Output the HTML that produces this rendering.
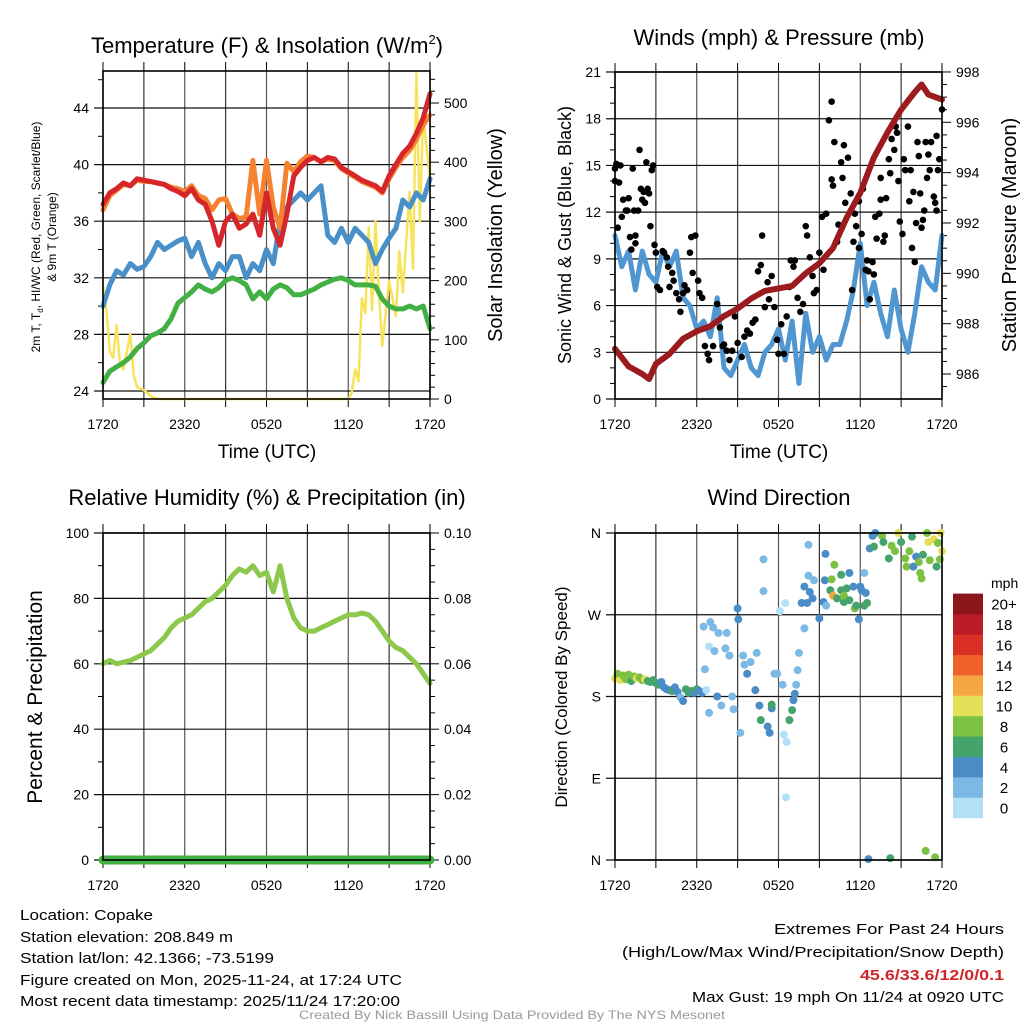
<!DOCTYPE html>
<html><head><meta charset="utf-8"><style>
html,body{margin:0;padding:0;background:#fff;}
svg{display:block;font-family:"Liberation Sans",sans-serif;}
</style></head><body>
<svg id="fig" width="1024" height="1024" viewBox="0 0 1024 1024" xmlns="http://www.w3.org/2000/svg"></svg>
<script>
// ---------- DATA ----------
const hoursHalf = [0,0.5,1,1.5,2,2.5,3,3.5,4,4.5,5,5.5,6,6.5,7,7.5,8,8.5,9,9.5,10,10.5,11,11.5,12,12.5,13,13.5,14,14.5,15,15.5,16,16.5,17,17.5,18,18.5,19,19.5,20,20.5,21,21.5,22,22.5,23,23.5,24];
const tempRed = [37.2,38,38.3,38.7,38.5,39,38.9,38.8,38.7,38.6,38.3,38.1,37.8,38.3,37.5,37.2,36,34.3,36,36.5,35.5,35.8,36.5,35,38,35.5,34.3,36.5,39.2,39.8,40.3,40.5,40.2,40.5,40.4,39.8,39.5,39.2,38.9,38.7,38.5,38.1,39.2,40,40.8,41.3,42.2,43.3,45];
const temp9m = [36.8,37.8,38.2,38.6,38.5,38.9,38.8,38.8,38.7,38.6,38.4,38.3,38.1,38.5,37.8,37.6,36.8,37.5,37.6,36.5,36.2,36.3,40.3,36.5,40.3,37,35.5,40.1,39.5,40.2,40.6,40.5,40.2,40.4,40.3,39.7,39.4,39.1,38.8,38.6,38.4,38,39,39.8,40.5,41,41.8,42.8,43.5];
const tempBlue = [30,31.5,32.5,32.2,33,32.6,32.8,33.5,34.5,34,34.3,34.6,34.8,33.5,34.5,33,32,33,32.5,33.5,33.5,32,33,32.5,34,33,36,37,37.5,38,37.5,38,38.5,35,34.5,35.5,34.5,35.5,35,34.5,33,34,34.8,35.5,37.5,37,38,37.5,39];
const dewGreen = [24.6,25.4,25.7,26,26.4,27,27.4,27.9,28.1,28.4,29.1,30.2,30.6,31,31.5,31.2,31,31.3,31.8,32,31.8,31.5,30.5,31,30.5,31.2,31.5,31.3,30.8,30.8,31,31.2,31.5,31.7,31.9,32,31.8,31.5,31.5,31.5,31.4,30.5,30,29.8,29.8,30,29.8,30,28.4];
const solarHours = [0,0.25,0.5,0.75,1,1.25,1.5,2,2.25,2.5,3,3.5,4,18,18.25,18.5,18.75,19,19.25,19.5,19.75,20,20.25,20.5,21,21.5,21.75,22,22.5,22.75,23,23.25,23.5,24];
const solarValues = [190,150,80,70,125,60,50,110,40,20,15,5,0,0,10,50,30,170,145,290,150,300,180,90,200,140,250,180,350,220,550,300,480,370];
const windBlue = [10.5,8.5,9.5,7,9.5,8,7.5,9.5,8.5,9.5,6.5,6,4.5,5,4,6.5,2,1.5,2.5,3.5,2,1.5,3,3.5,4.5,2.5,5,1,5.5,3,4,2.5,3.5,3.5,5,7,10,6,7.5,5.5,4,7,4.5,3,5.5,8.5,7.5,7,10.5];
const pressHours = [0,1,2,2.5,3,4,5,6,7,8,9,10,11,12,13,14,15,16,17,18,19,20,21,22,22.5,23,24];
const pressValues = [987,986.3,986.0,985.8,986.4,986.8,987.4,987.7,987.9,988.3,988.6,989.0,989.3,989.4,989.5,990.0,990.4,991.0,992.2,993.2,994.6,995.6,996.5,997.2,997.5,997.1,996.9];
const gustHours = [
 0,0,0.1,0.3,0.4,0.2,0.5,0.6,0.8,0.9,
 1.0,1.1,1.4,1.5,1.5,1.2,1.3,1.7,1.8,1.9,
 2.0,2.1,2.2,2.3,2.4,2.5,2.6,2.7,2.8,2.9,
 3.0,3.1,3.3,3.5,3.6,3.8,3.9,4.0,4.2,4.3,
 4.5,4.7,4.8,5.0,5.1,5.3,5.5,5.6,5.7,5.9,
 6.1,6.2,6.4,6.6,6.8,6.9,7.2,7.5,7.7,7.9,
 8.0,8.2,8.4,8.6,8.8,9.0,9.3,9.5,9.7,9.9,
 10.1,10.3,10.5,10.7,10.8,11.0,11.2,11.3,11.5,11.7,
 11.9,12.0,12.2,12.4,12.6,12.8,12.9,13.1,13.2,13.4,
 13.6,13.8,14.0,14.1,14.3,14.5,14.6,14.8,15.0,15.2,
 15.3,15.5,15.7,15.9,15.9,16.0,16.1,16.3,16.4,16.6,
 16.7,16.8,16.9,17.1,17.3,17.4,17.5,17.6,17.7,17.9,
 17.9,18.1,18.2,18.4,18.5,18.6,18.7,18.9,19.0,19.1,
 19.2,19.4,19.5,19.5,19.7,19.8,19.9,20.1,20.2,20.3,
 20.5,20.6,20.7,20.8,20.9,21.1,21.2,21.3,21.5,21.6,
 21.7,21.8,21.9,22.0,22.1,22.2,22.3,22.4,22.5,22.6,
 22.7,22.8,22.9,23.0,23.1,23.2,23.4,23.5,23.6,23.6,
 23.7,23.8,24];
const gustValues = [
 14.8,14,15.1,13.9,15,11,11.7,12.8,12.1,12.1,
 12.9,10.4,12.1,10.5,10,9.6,14.8,12.1,16,13.5,
 12.8,13.3,12.6,15.2,13.5,13.2,11.1,14.7,15,9.9,
 9.4,7.2,7,9.5,9.4,9.1,8.5,7.2,8.1,7.6,
 6.8,6.4,5.6,6.8,7.3,7,9.4,10.4,8.1,10.5,
 7.6,6.8,6.5,3.4,2.9,2.5,3.4,6.1,4.6,3.4,
 3.5,3.1,2.5,3.1,5.3,3.6,2.7,4,4.4,4.2,
 4.9,5.1,8.2,8.6,10.5,5.9,7.5,6.4,7.9,5.9,
 3.8,2.9,4.8,2.9,5.3,7.2,8.9,8.5,8.9,6.5,
 5.6,6.1,11.1,10.5,9.1,7.9,6.8,7,9.4,11.7,
 8.3,11.9,17.9,14.1,19.1,13.7,16.5,10.1,11.2,15.2,
 14.2,16.3,12.6,15.5,13.2,7,10.1,11.9,11.1,9.7,
 12.7,10.6,13.5,8.3,8.9,8.2,6.4,8.8,8,11.7,
 10.3,11.9,14.2,12.8,10.1,10.5,12.9,15.4,14.5,16.7,
 16,17.5,17.1,14,11.4,10.6,15.4,14.7,17.5,12.7,
 14.7,9.7,13.3,8.8,11.3,16.5,15.6,13.2,11,11.5,
 12.1,16.5,14.2,15.7,14.7,16.5,13,12.6,16.9,12.1,
 14.7,15.4,18.6];
const rhValues = [60,61,60,60.5,61,62,63,64,66,68,71,73,74,75,77,79,80,82,84,87,89,88,90,87,88,82,90,80,74,71,70,70,71,72,73,74,75,75,75.5,75,73,70,67,65,64,62,60,57,54];
const precipValues = [0,0,0,0,0,0,0,0,0,0,0,0,0,0,0,0,0,0,0,0,0,0,0,0,0,0,0,0,0,0,0,0,0,0,0,0,0,0,0,0,0,0,0,0,0,0,0,0,0];
const dirHours = [
 0,0.2,0.4,0.6,0.8,1.0,1.2,1.4,1.6,1.8,
 2.0,2.2,2.4,2.6,2.8,3.0,3.2,3.4,3.6,3.8,
 4.0,4.2,4.4,4.6,4.8,5.0,5.2,5.4,5.6,5.8,
 6.0,6.2,6.4,
 6.7,6.5,7.0,7.2,6.9,7.3,6.6,6.9,7.6,8.2,
 8.1,8.4,7.5,7.8,8.6,8.7,9.0,9.05,9.2,9.4,
 9.5,9.7,9.95,10.4,10.3,10.6,10.9,10.9,11.2,11.35,
 11.5,10.7,11.5,11.7,11.9,12.1,12.3,12.5,12.4,12.6,
 12.55,12.8,13.0,13.1,13.2,13.3,13.4,13.5,13.9,14.2,
 13.7,14.1,14.3,14.2,14.6,13.9,14.5,15.0,15.3,15.4,
 15.45,15.5,15.8,16.0,15.9,16.1,16.3,16.6,16.8,16.8,
 16.6,17.0,17.2,17.2,17.5,17.6,17.7,17.9,18.0,18.1,
 18.3,18.3,18.4,18.5,
 18.7,18.9,19.1,19.0,19.6,19.7,20.1,20.3,20.55,20.8,
 21.0,21.3,21.4,21.6,21.8,21.9,22.1,22.3,22.4,22.5,
 22.6,22.9,23.0,23.1,23.4,23.6,23.7,23.9,24,23.85,
 18.6,20.2,22.8,23.5];
const dirValues = [
 200,205,198,203,199,204,197,202,200,201,
 198,199,197,196,198,195,193,196,190,188,
 187,186,190,185,179,175,188,184,186,184,
 188,186,184,
 187,257,262,256,235,230,210,162,250,250,
 233,225,180,170,180,166,277,265,140,225,
 215,205,218,228,187,170,331,296,147,140,
 167,154,171,205,205,274,193,283,138,130,
 69,154,165,176,183,193,209,228,255,347,
 283,283,295,313,308,301,288,266,284,308,
 337,280,297,291,309,325,288,297,284,291,
 314,299,316,286,301,277,280,265,301,297,
 280,316,294,283,
 343,357,360,345,357,350,332,346,340,360,
 350,332,323,340,356,323,334,328,316,310,
 336,360,350,330,353,323,349,360,340,331,
 1,2,10,3];
const dirSpeeds = [
 10,9,10,8,9,8,7,9,10,8,
 9,10,7,6,7,6,6,5,4,5,
 4,6,5,4,3,4,6,7,6,4,
 6,5,4,
 1,2,2,2,1,2,2,2,2,2,
 2,2,4,2,2,2,4,4,2,2,
 2,4,2,2,4,4,2,2,4,4,
 4,7,7,2,2,1,2,1,1,1,
 1,7,7,4,4,2,2,2,2,2,
 4,4,4,2,2,4,4,4,4,4,
 4,2,6,12,8,8,6,6,6,8,
 6,6,4,6,4,8,6,4,4,4,
 6,2,4,6,
 4,4,4,6,8,6,6,8,8,10,
 6,8,8,8,6,4,4,8,8,8,
 6,8,10,8,10,6,8,10,10,8,
 4,7,8,8];
const speedBins = ["0","2","4","6","8","10","12","14","16","18","20+"];
const tempTicks = [24,28,32,36,40,44];
const solarTicks = [0,100,200,300,400,500];
const windTicks = [0,3,6,9,12,15,18,21];
const pressTicks = [986,988,990,992,994,996,998];
const rhTicks = [0,20,40,60,80,100];
const precipTicks = ["0.00","0.02","0.04","0.06","0.08","0.10"];
const dirTicks = ["N","E","S","W","N"];
const timeTicks = ["1720","2320","0520","1120","1720"];

// ---------- HELPERS ----------
const NS="http://www.w3.org/2000/svg";
const svg=document.getElementById('fig');
function mk(tag,attrs,parent,text){const e=document.createElementNS(NS,tag);for(const k in attrs)e.setAttribute(k,attrs[k]);if(text!==undefined)e.textContent=text;(parent||svg).appendChild(e);return e;}
const speedColors=["#b3e0f6","#7cb9e4","#4a8cc6","#45a36c","#7dc142","#e5df57","#f5a640","#ee6228","#da2f27","#b91c24","#8c1619"];
function panel(name,x0,y0,x1,y1){
  const g=mk('g',{});
  
  
  const sx=h=>x0+(x1-x0)*h/24;
  for(let i=0;i<=8;i++){const x=x0+(x1-x0)*i/8;
    mk('line',{x1:x,y1:y0,x2:x,y2:y1,stroke:i%2?'#333':'#555','stroke-width':1.2},g);
    mk('line',{x1:x,y1:y0-9,x2:x,y2:y0,stroke:'#000','stroke-width':1},g);
    mk('line',{x1:x,y1:y1,x2:x,y2:y1+8,stroke:'#000','stroke-width':1},g);}
  timeTicks.forEach((t,i)=>{const tx=mk('text',{x:x0+(x1-x0)*i/4,y:y1+30,'font-size':14,'text-anchor':'middle'},g,t);
    
    });
  return {g,sx};
}
function yaxis(g,x0,x1,yOf,vals,labels,side,fs){
  vals.forEach((v,i)=>{const y=yOf(v);
    if(side==='left'){mk('line',{x1:x0-9,y1:y,x2:x1,y2:y,stroke:'#111','stroke-width':1.2},g);
      const t=mk('text',{x:x0-14,y:y+5,'font-size':fs||14,'text-anchor':'end'},g,labels[i]);
      
      }
    else{mk('line',{x1:x1,y1:y,x2:x1+9,y2:y,stroke:'#000','stroke-width':1},g);
      const t=mk('text',{x:x1+14,y:y+5,'font-size':fs||14,'text-anchor':'start'},g,labels[i]);
      
      }
  });
}
function border(g,x0,y0,x1,y1){mk('rect',{x:x0,y:y0,width:x1-x0,height:y1-y0,fill:'none',stroke:'#000','stroke-width':1.6},g);}
function line(g,name,xs,ys,color,w){
  const p=mk('polyline',{points:xs.map((x,i)=>x.toFixed(1)+','+ys[i].toFixed(1)).join(' '),fill:'none',stroke:color,'stroke-width':w,'stroke-linejoin':'round','stroke-linecap':'round'},g);
  
  
  return p;}
function title(x,y,txt,fs,name,rot){const t=mk('text',{x:x,y:y,'font-size':fs,'text-anchor':'middle',transform:rot?`rotate(-90 ${x} ${y})`:''},svg,txt);
  
  return t;}

// ---------- PANEL 1: Temperature ----------
{
 const X0=103,X1=430,Y0=71,Y1=399;
 const {g,sx}=panel('temperature-panel',X0,Y0,X1,Y1);
 const yT=v=>391-(v-24)*14.15, yS=v=>399-v*0.592;
 yaxis(g,X0,X1,yT,tempTicks,tempTicks.map(String),'left');
 yaxis(g,X0,X1,yS,solarTicks,solarTicks.map(String),'right');
 for(let v=26;v<=46;v+=4){mk('line',{x1:X0-5,y1:yT(v),x2:X0,y2:yT(v),stroke:'#000'},g);}
 for(let v=20;v<=540;v+=20){if(v%100){mk('line',{x1:X1,y1:yS(v),x2:X1+5,y2:yS(v),stroke:'#000'},g);}}
 const xs=hoursHalf.map(sx);
 line(g,'solar-insolation-line',solarHours.map(sx),solarValues.map(yS),'#f7e35a',2.5);
 line(g,'dewpoint-line',xs,dewGreen.map(yT),'#43b043',5);
 line(g,'wind-chill-line',xs,tempBlue.map(yT),'#4a90c8',5);
 line(g,'temp-9m-line',xs,temp9m.map(yT),'#f58231',5);
 line(g,'temp-2m-line',xs,tempRed.map(yT),'#d7262a',5);
 border(g,X0,Y0,X1,Y1);
}
title(267,53,'',22,'temperature-title').innerHTML='Temperature (F) &amp; Insolation (W/m<tspan dy="-9" font-size="13">2</tspan><tspan dy="9">)</tspan>';
title(267,458,'Time (UTC)',19,'x-axis-title-temp');
title(40,237,'',12,'temp-y-axis-title',true).innerHTML='2m T, T<tspan font-size="8" dy="3">d</tspan><tspan dy="-3">, HI/WC (Red, Green, Scarlet/Blue)</tspan>';
title(56,237,'& 9m T (Orange)',12,'temp-y-axis-title-2',true);
title(502,235,'Solar Insolation (Yellow)',20,'solar-y-axis-title',true);

// ---------- PANEL 2: Winds ----------
{
 const X0=615,X1=942,Y0=72,Y1=399;
 const {g,sx}=panel('winds-panel',X0,Y0,X1,Y1);
 const yW=v=>399-v*15.57, yP=v=>374-(v-986)*25.17;
 yaxis(g,X0,X1,yW,windTicks,windTicks.map(String),'left');
 yaxis(g,X0,X1,yP,pressTicks,pressTicks.map(String),'right');
 for(let v=985.5;v<=997.6;v+=0.5){if(v%2){mk('line',{x1:X1,y1:yP(v),x2:X1+5,y2:yP(v),stroke:'#000'},g);}}
 for(let v=1;v<21;v++){if(v%3){mk('line',{x1:X0-5,y1:yW(v),x2:X0,y2:yW(v),stroke:'#000'},g);}}
 line(g,'sonic-wind-line',hoursHalf.map(sx),windBlue.map(yW),'#5097d2',5);
 gustHours.forEach((h,i)=>{const c=mk('circle',{cx:sx(h),cy:yW(gustValues[i]),r:3.3,fill:'#000'},g);
   
   });
 line(g,'station-pressure-line',pressHours.map(sx),pressValues.map(yP),'#9b1b1e',6);
 border(g,X0,Y0,X1,Y1);
}
title(779,45,'Winds (mph) & Pressure (mb)',22,'winds-title');
title(779,458,'Time (UTC)',19,'x-axis-title-winds');
title(571,235,'Sonic Wind & Gust (Blue, Black)',18,'wind-y-axis-title',true);
title(1016,235,'Station Pressure (Maroon)',20,'pressure-y-axis-title',true);

// ---------- PANEL 3: RH ----------
{
 const X0=103,X1=430,Y0=533,Y1=860;
 const {g,sx}=panel('humidity-panel',X0,Y0,X1,Y1);
 const yR=v=>860-v*3.27;
 yaxis(g,X0,X1,yR,rhTicks,rhTicks.map(String),'left');
 yaxis(g,X0,X1,yR,rhTicks,precipTicks,'right');
 for(let v=10;v<100;v+=20){mk('line',{x1:X0-5,y1:yR(v),x2:X0,y2:yR(v),stroke:'#000'},g);}
 for(let v=5;v<100;v+=5){if(v%20){mk('line',{x1:X1,y1:yR(v),x2:X1+5,y2:yR(v),stroke:'#000'},g);}}
 const xs=hoursHalf.map(sx);
 line(g,'relative-humidity-line',xs,rhValues.map(yR),'#8cc84b',5);
 line(g,'precipitation-line',xs,precipValues.map(v=>yR(v*1000)),'#43b043',9);
 border(g,X0,Y0,X1,Y1);
}
title(267,505,'Relative Humidity (%) & Precipitation (in)',22,'humidity-title');
title(42,697,'Percent & Precipitation',21,'rh-y-axis-title',true);

// ---------- PANEL 4: Wind direction ----------
{
 const X0=615,X1=942,Y0=533,Y1=860;
 const {g,sx}=panel('wind-direction-panel',X0,Y0,X1,Y1);
 const yD=d=>860-d*0.9083;
 yaxis(g,X0,X1,yD,[0,90,180,270,360],dirTicks,'left');
 dirHours.forEach((h,i)=>{const b=Math.min(10,Math.floor(dirSpeeds[i]/2));
   const c=mk('circle',{cx:sx(h),cy:yD(dirValues[i]),r:4,fill:speedColors[b]},g);
   
   });
 border(g,X0,Y0,X1,Y1);
 const lg=mk('g',{});
 
 
 mk('text',{x:991,y:588,'font-size':14},lg,'mph');
 speedBins.forEach((s,i)=>{const y=818-(i+1)*20.4;
   mk('rect',{x:953,y:y,width:30,height:20.6,fill:speedColors[i]},lg);
   const tx=mk('text',{x:1004,y:y+16,'font-size':15,'text-anchor':'middle'},lg,s);
   
   });
}
title(779,505,'Wind Direction',22,'wind-direction-title');
title(567,697,'Direction (Colored By Speed)',17,'direction-y-axis-title',true);

// ---------- FOOTER ----------
const foot=[['Location: Copake',20,920,133],['Station elevation: 208.849 m',20,942,213],['Station lat/lon: 42.1366; -73.5199',20,963,254],['Figure created on Mon, 2025-11-24, at 17:24 UTC',20,985,382],['Most recent data timestamp: 2025/11/24 17:20:00',20,1006,380]];
foot.forEach(f=>{const t=mk('text',{x:f[1],y:f[2],'font-size':15,textLength:f[3],lengthAdjust:'spacingAndGlyphs'},svg,f[0]);
  
  });
const rf=[['Extremes For Past 24 Hours',934,230,'#000'],['(High/Low/Max Wind/Precipitation/Snow Depth)',957,382,'#000'],['45.6/33.6/12/0/0.1',980,144,'#d0262a'],['Max Gust: 19 mph On 11/24 at 0920 UTC',1002,312,'#000']];
rf.forEach(f=>{const t=mk('text',{x:1004-f[2],y:f[1],'font-size':15,fill:f[3],'font-weight':f[3]==='#000'?'normal':'bold',textLength:f[2],lengthAdjust:'spacingAndGlyphs'},svg,f[0]);
  
  });
const cr=mk('text',{x:512,y:1019,'font-size':12,fill:'#999','text-anchor':'middle',textLength:426,lengthAdjust:'spacingAndGlyphs'},svg,'Created By Nick Bassill Using Data Provided By The NYS Mesonet');


</script>
</body></html>
